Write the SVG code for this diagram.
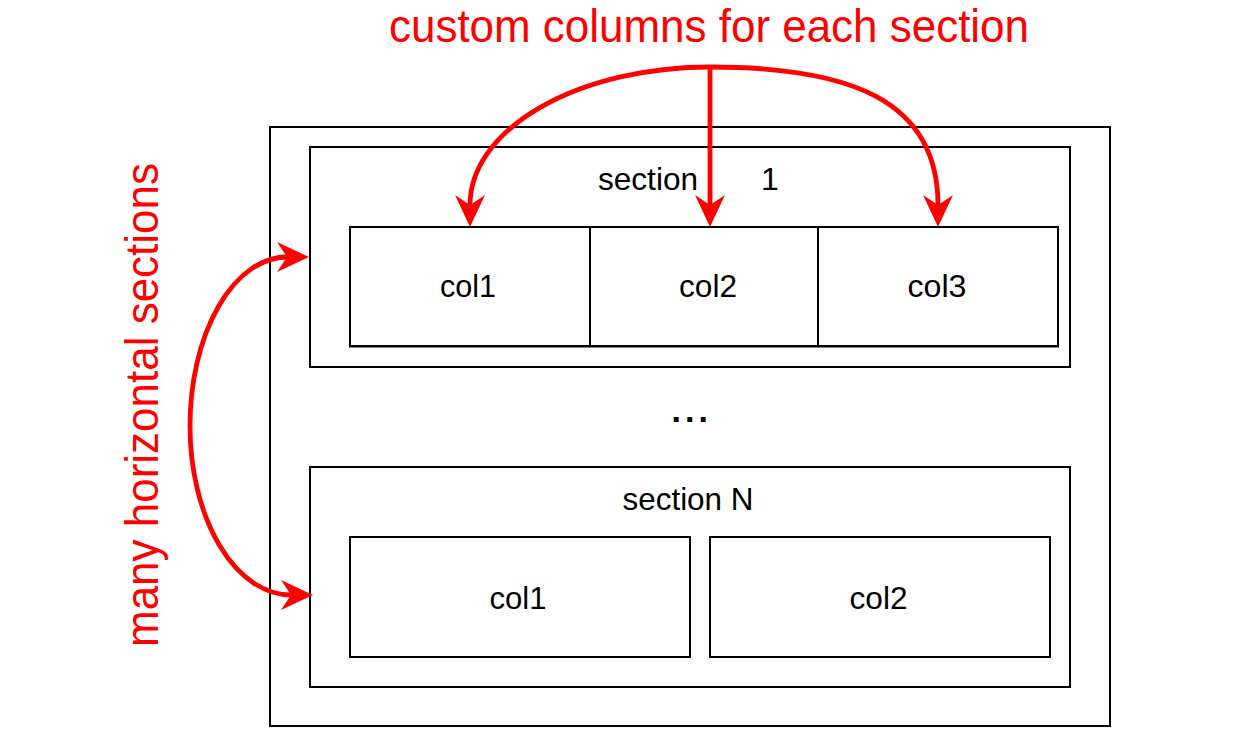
<svg xmlns="http://www.w3.org/2000/svg" width="1234" height="738" viewBox="0 0 1234 738">
<style>
.box{fill:#fff;stroke:#000;stroke-width:2}
.lbl{font-family:"Liberation Sans",Arial,sans-serif;font-size:31px;fill:#000}
.sec{font-family:"Liberation Sans",Arial,sans-serif;font-size:32px;fill:#000}
.red{font-family:"Liberation Sans",Arial,sans-serif;font-size:46px;fill:#ff0000}
.conn{fill:none;stroke:#ff0000;stroke-width:4.8}
</style>
<defs>
<marker id="ah" markerUnits="userSpaceOnUse" markerWidth="40" markerHeight="40" refX="0" refY="0" orient="auto-start-reverse" overflow="visible">
<path d="M22,0 L-10,-15 L0,0 L-10,15 Z" fill="#ff0000"/>
</marker>
</defs>
<rect width="1234" height="738" fill="#fff"/>
<g id="outer"><rect class="box" x="270" y="127" width="840" height="599"/></g>
<g id="section1">
<rect class="box" x="310" y="147" width="760" height="220"/>
<text class="sec" x="598" y="190" textLength="100" lengthAdjust="spacingAndGlyphs">section</text>
<text class="sec" x="761" y="190">1</text>
</g>
<g id="s1col1"><rect class="box" x="350" y="227" width="240" height="119"/><text class="lbl" x="468" y="297" text-anchor="middle" textLength="56" lengthAdjust="spacingAndGlyphs">col1</text></g>
<g id="s1col2"><rect class="box" x="590" y="227" width="228" height="119"/><text class="lbl" x="708" y="297" text-anchor="middle" textLength="58" lengthAdjust="spacingAndGlyphs">col2</text></g>
<g id="s1col3"><rect class="box" x="818" y="227" width="240" height="119"/><text class="lbl" x="937" y="297" text-anchor="middle" textLength="59" lengthAdjust="spacingAndGlyphs">col3</text></g>
<line x1="349" y1="347" x2="1059" y2="347" stroke="#000" stroke-width="1"/>
<g id="ellipsis"><text x="671.5" y="422" style="font-family:'Liberation Sans',Arial,sans-serif;font-size:34px;font-weight:bold;letter-spacing:4px" fill="#000">...</text></g>
<g id="sectionN">
<rect class="box" x="310" y="467" width="760" height="220"/>
<text class="sec" x="688" y="510" text-anchor="middle" textLength="131" lengthAdjust="spacingAndGlyphs">section N</text>
</g>
<g id="sNcol1"><rect class="box" x="350" y="537" width="340" height="120"/><text class="lbl" x="518" y="609" text-anchor="middle" textLength="57" lengthAdjust="spacingAndGlyphs">col1</text></g>
<g id="sNcol2"><rect class="box" x="710" y="537" width="340" height="120"/><text class="lbl" x="878.5" y="609" text-anchor="middle" textLength="58" lengthAdjust="spacingAndGlyphs">col2</text></g>
<g id="title"><text class="red" x="709" y="42" text-anchor="middle" textLength="640" lengthAdjust="spacingAndGlyphs">custom columns for each section</text></g>
<g id="sideLabel"><text class="red" transform="translate(158,405) rotate(-90)" x="0" y="0" text-anchor="middle" textLength="484" lengthAdjust="spacingAndGlyphs">many horizontal sections</text></g>
<g id="connectors">
<path class="conn" d="M710,67 L710,205" marker-end="url(#ah)"/>
<path class="conn" d="M710,67 A240,138 0 0 0 470,205" marker-end="url(#ah)"/>
<path class="conn" d="M710,67 C850,67 938,100 938,205" marker-end="url(#ah)"/>
<path class="conn" d="M287,257 A97,169 0 0 0 190,426 A101,169 0 0 0 291,595" marker-start="url(#ah)" marker-end="url(#ah)"/>
</g>
</svg>
